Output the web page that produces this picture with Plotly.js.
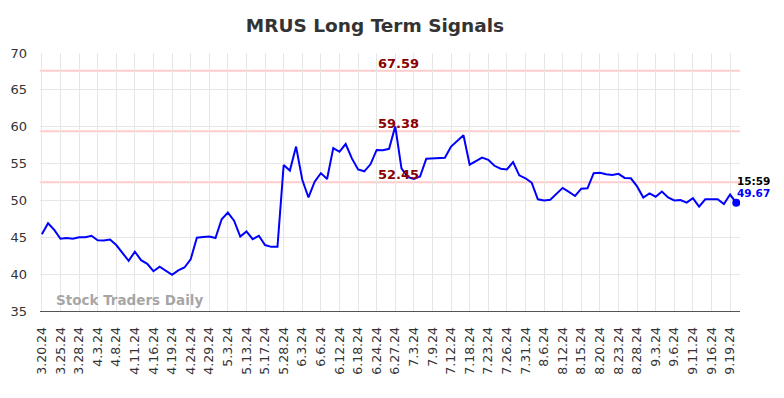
<!DOCTYPE html>
<html>
<head>
<meta charset="utf-8">
<script src="https://cdn.plot.ly/plotly-3.0.1.min.js"></script>
<style>html,body{margin:0;padding:0;background:#fff}#chart{width:784px;height:398px}</style>
</head>
<body>
<div id="chart"></div>
<script>
// Series values (one per trading session, in order)
const signalValues = [
  45.4, 46.9, 46.0, 44.8, 44.9, 44.8, 45.0, 45.0, 45.2, 44.6,
  44.55, 44.7, 43.95, 42.9, 41.8, 43.05, 41.9, 41.4, 40.4, 41.0,
  40.5, 39.9, 40.5, 40.9, 42.0, 44.95, 45.05, 45.1, 44.9, 47.45,
  48.35, 47.25, 45.1, 45.8, 44.75, 45.2, 43.95, 43.7, 43.7, 54.8,
  54.05, 57.3, 52.8, 50.4, 52.55, 53.7, 52.9, 57.1, 56.6, 57.65,
  55.7, 54.2, 53.95, 54.9, 56.85, 56.8, 57.0, 60.05, 54.35, 53.2,
  52.9, 53.25, 55.65, 55.7, 55.75, 55.8, 57.3, 58.1, 58.85, 54.85,
  55.3, 55.8, 55.5, 54.7, 54.3, 54.2, 55.2, 53.4, 53.0, 52.4,
  50.15, 50.0, 50.1, 50.9, 51.7, 51.15, 50.6, 51.6, 51.65, 53.7,
  53.75, 53.55, 53.45, 53.6, 53.05, 53.0, 51.9, 50.4, 50.95, 50.5,
  51.2, 50.4, 50.0, 50.05, 49.7, 50.3, 49.15, 50.15, 50.2, 50.15,
  49.5, 50.8, 49.67
];
// Tick labels, one every third session
const tickLabels = [
  "3.20.24","3.25.24","3.28.24","4.3.24","4.8.24","4.11.24","4.16.24","4.19.24",
  "4.24.24","4.29.24","5.3.24","5.13.24","5.17.24","5.28.24","6.3.24","6.6.24",
  "6.12.24","6.18.24","6.24.24","6.27.24","7.3.24","7.9.24","7.12.24","7.18.24",
  "7.23.24","7.26.24","7.31.24","8.6.24","8.12.24","8.15.24","8.20.24","8.23.24",
  "8.28.24","9.3.24","9.6.24","9.11.24","9.16.24","9.19.24"
];
// Horizontal signal levels
const signalLevels = [67.59, 59.38, 52.45];
const lastTime = "15:59";

const xIdx = signalValues.map((_, i) => i);
const tickVals = tickLabels.map((_, i) => i * 3);
const lastIdx = signalValues.length - 1;
const lastVal = signalValues[lastIdx];
const labelX = 57.6;

const traces = [
  {x: xIdx, y: signalValues, type: 'scatter', mode: 'lines',
   line: {color: '#0000ff', width: 2}, hoverinfo: 'skip'},
  {x: [lastIdx], y: [lastVal], type: 'scatter', mode: 'markers',
   marker: {color: '#0000ff', size: 8}, hoverinfo: 'skip'}
];

const shapes = signalLevels.map(v => ({
  type: 'line', xref: 'paper', x0: 0, x1: 1, yref: 'y', y0: v, y1: v,
  line: {color: '#ffcccc', width: 2}, layer: 'below'
}));

const annotations = signalLevels.map(v => ({
  x: labelX, y: v, xref: 'x', yref: 'y', text: v.toFixed(2), showarrow: false,
  yanchor: 'bottom', xanchor: 'center', yshift: -2,
  font: {family: 'DejaVu Sans', size: 13, color: '#8b0000', weight: 'bold'}
}));
annotations.push({
  x: lastIdx, y: lastVal, xref: 'x', yref: 'y', text: '<b>' + lastTime + '</b>', showarrow: false,
  xanchor: 'center', yanchor: 'middle', xshift: 17, yshift: 22,
  font: {family: 'DejaVu Sans', size: 10.5, color: '#000000'}
});
annotations.push({
  x: lastIdx, y: lastVal, xref: 'x', yref: 'y', text: '<b>' + lastVal.toFixed(2) + '</b>', showarrow: false,
  xanchor: 'center', yanchor: 'middle', xshift: 17, yshift: 10,
  font: {family: 'DejaVu Sans', size: 10.5, color: '#0000ff'}
});
annotations.push({
  x: 0.02, y: 35, xref: 'paper', yref: 'y', text: '<b>Stock Traders Daily</b>', showarrow: false,
  xanchor: 'left', yanchor: 'bottom', yshift: 1,
  font: {family: 'DejaVu Sans', size: 13.5, color: 'rgba(150,150,150,0.85)'}
});

const layout = {
  width: 784, height: 398,
  margin: {l: 40, r: 44, t: 53, b: 87},
  paper_bgcolor: '#ffffff', plot_bgcolor: '#ffffff',
  showlegend: false,
  title: {text: '<b>MRUS Long Term Signals</b>', x: 375 / 784, xanchor: 'center', y: 0.935, yanchor: 'middle',
          font: {family: 'DejaVu Sans', size: 18.5, color: '#333333'}},
  xaxis: {
    range: [-0.3, 112.6], tickmode: 'array', tickvals: tickVals, ticktext: tickLabels,
    tickangle: -90, showgrid: true, gridcolor: '#e6e6e6', gridwidth: 1,
    zeroline: false, showline: true, linecolor: '#555555', linewidth: 1,
    ticks: '', ticklabelstandoff: 10,
    tickfont: {family: 'DejaVu Sans', size: 12.5, color: '#333333'}
  },
  yaxis: {
    range: [35, 70], tickmode: 'array', tickvals: [35,40,45,50,55,60,65,70],
    showgrid: true, gridcolor: '#e6e6e6', gridwidth: 1, zeroline: false,
    showline: false, ticks: '', ticklabelstandoff: 12,
    tickfont: {family: 'DejaVu Sans', size: 13, color: '#333333'}
  },
  shapes: shapes,
  annotations: annotations
};

Plotly.newPlot('chart', traces, layout, {staticPlot: true, displayModeBar: false});
</script>
</body>
</html>
